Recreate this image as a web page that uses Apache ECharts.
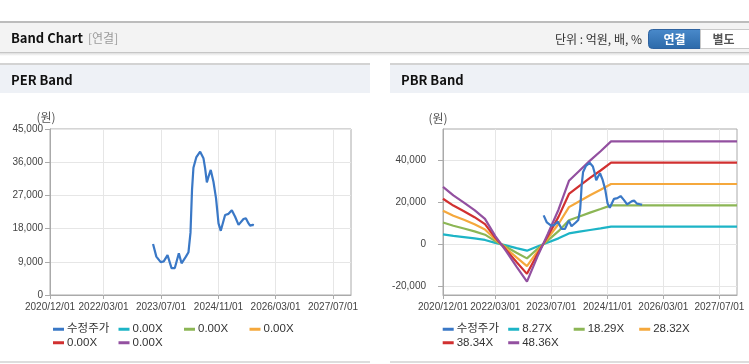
<!DOCTYPE html>
<html><head><meta charset="utf-8">
<script src="https://cdn.jsdelivr.net/npm/echarts@6/dist/echarts.min.js"></script>
<style>html,body{margin:0;padding:0;background:#fff;}#c{width:749px;height:364px;}</style>
</head><body><div id="c"></div>
<script>
// ---------- data ----------
const xTickLabels = ['2020/12/01','2022/03/01','2023/07/01','2024/11/01','2026/03/01','2027/07/01'];
const xMin = '2020/12/01';
const xMax = '2027/12/01';

const perYTicks = [0, 9000, 18000, 27000, 36000, 45000];
const pbrYTicks = [-20000, 0, 20000, 40000];
const pbrYMin = -24200;
const pbrYMax = 55000;

// 수정주가 (adjusted price)
const priceDates = ['2023/04/25','2023/05/23','2023/06/29','2023/07/25','2023/08/26','2023/09/29','2023/10/27','2023/11/30','2023/12/23','2024/01/29','2024/02/20','2024/03/08','2024/03/21','2024/04/02','2024/04/27','2024/05/29','2024/06/26','2024/07/10','2024/07/25','2024/08/08','2024/08/27','2024/09/19','2024/10/11','2024/11/01','2024/11/20','2024/12/27','2025/01/25','2025/02/22','2025/03/22','2025/04/20','2025/06/01','2025/06/21','2025/07/14','2025/07/27','2025/08/19','2025/08/28'];
const priceValues = [13800,10400,8900,9100,10800,7300,7300,11300,8600,10400,11600,16900,28500,34500,37400,38850,37100,34400,30500,32100,33900,30700,26200,19400,17400,21700,22000,23000,21200,19000,20600,20800,19400,18800,19000,18900];

// PBR band lines
const bandDates = ['2020/12/01','2021/03/01','2021/06/01','2021/09/01','2021/12/01','2022/03/01','2022/06/01','2022/09/01','2022/12/01','2023/03/01','2023/06/01','2023/09/01','2023/12/01','2024/03/01','2024/06/01','2024/09/01','2024/12/01','2027/12/01'];
const pbr827  = [4686,3984,3403,2788,2069,667,-547,-1830,-3044,-1026,855,2822,5182,6002,6824,7593,8397,8397];
const pbr1829 = [10363,8812,7526,6166,4576,1474,-1211,-4048,-6733,-2270,1891,6241,11461,13275,15091,16792,18570,18570];
const pbr2832 = [16046,13645,11654,9547,7086,2283,-1875,-6267,-10425,-3515,2928,9663,17745,20555,23367,26001,28753,28753];
const pbr3834 = [21723,18472,15777,12924,9593,3090,-2538,-8485,-14113,-4758,3964,13082,24024,27827,31634,35200,38927,38927];
const pbr4836 = [27400,23300,19900,16300,12100,3900,-3200,-10700,-17800,-6000,5000,16500,30300,35100,39900,44400,49100,49100];

// PER band lines (0.00X -> no line drawn)
const perBandEmpty = [];

const perLegendLabels = ['수정주가','0.00X','0.00X','0.00X','0.00X','0.00X'];
const pbrLegendLabels = ['수정주가','8.27X','18.29X','28.32X','38.34X','48.36X'];
const seriesColors = ['#3a78c6','#1db4c6','#8cb655','#f5a83c','#d13030','#9350a0'];

// ---------- helpers ----------
const LAT = "'Liberation Sans','Noto Sans CJK KR',sans-serif";
const KR = "'Noto Sans CJK KR','Liberation Sans',sans-serif";
const ts = s => new Date(s).getTime();
const zip = (d, v) => d.map((x, i) => [ts(x), v[i]]);
const tickTs = xTickLabels.map(ts);
const fmtDate = v => { const i = tickTs.indexOf(v); if (i >= 0) return xTickLabels[i];
  const d = new Date(v); return d.getFullYear() + '/' + String(d.getMonth()+1).padStart(2,'0') + '/' + String(d.getDate()).padStart(2,'0'); };
const fmtNum = v => Number(v).toLocaleString('en-US');

const names = ['perP','per1','per2','per3','per4','per5','pbrP','pbr1','pbr2','pbr3','pbr4','pbr5'];
const labelMap = {};
names.forEach((n, i) => { labelMap[n] = i < 6 ? perLegendLabels[i] : pbrLegendLabels[i-6]; });

function xAxisOpt(gi) {
  return {
    type: 'value', gridIndex: gi, min: ts(xMin), max: ts(xMax),
    axisLine: { show: true, onZero: false, lineStyle: { color: '#aaaaaa', width: 1 } },
    axisTick: { show: true, length: 4, customValues: tickTs, lineStyle: { color: '#aaaaaa' } },
    axisLabel: { customValues: tickTs, formatter: fmtDate, color: '#444', fontSize: 10, fontFamily: LAT, margin: 7, hideOverlap: false },
    splitLine: { show: true, lineStyle: { color: '#e6e6e6', width: 1 } }
  };
}

const lineS = (name, xi, data, color, z) => ({
  name, type: 'line', xAxisIndex: xi, yAxisIndex: xi, data,
  showSymbol: false, symbol: 'none', silent: true, animation: false,
  lineStyle: { color, width: 2.2 }, itemStyle: { color }, z: z
});

const series = [
  lineS('per1', 0, perBandEmpty, seriesColors[1], 2),
  lineS('per2', 0, perBandEmpty, seriesColors[2], 2),
  lineS('per3', 0, perBandEmpty, seriesColors[3], 2),
  lineS('per4', 0, perBandEmpty, seriesColors[4], 2),
  lineS('per5', 0, perBandEmpty, seriesColors[5], 2),
  lineS('perP', 0, zip(priceDates, priceValues), seriesColors[0], 3),
  lineS('pbr1', 1, zip(bandDates, pbr827), seriesColors[1], 2),
  lineS('pbr2', 1, zip(bandDates, pbr1829), seriesColors[2], 2),
  lineS('pbr3', 1, zip(bandDates, pbr2832), seriesColors[3], 2),
  lineS('pbr4', 1, zip(bandDates, pbr3834), seriesColors[4], 2),
  lineS('pbr5', 1, zip(bandDates, pbr4836), seriesColors[5], 2),
  lineS('pbrP', 1, zip(priceDates, priceValues), seriesColors[0], 3)
];

const legendCols = [0, 65.5, 131, 196.5];
const legendRows = [323.5, 337];
const legends = [];
[[53, 'per'], [442.7, 'pbr']].forEach(([x0, pre]) => {
  const order = [pre + 'P', pre + '1', pre + '2', pre + '3', pre + '4', pre + '5'];
  order.forEach((n, i) => {
    const row = i < 4 ? 0 : 1, col = i < 4 ? i : i - 4;
    legends.push({
      data: [n], left: x0 + legendCols[col], top: legendRows[row], padding: 0, itemGap: 0,
      icon: 'rect', itemWidth: 11, itemHeight: 3, selectedMode: false,
      formatter: nm => labelMap[nm],
      textStyle: { color: '#333', fontSize: 11.5, fontFamily: LAT, padding: [0, 0, 0, -2] }
    });
  });
});

const graphic = [
  { type: 'rect', shape: { x: 0, y: 21, width: 749, height: 2 }, style: { fill: '#bcbcbc' }, silent: true },
  { type: 'rect', shape: { x: 0, y: 23, width: 749, height: 29 }, style: { fill: '#f3f3f3' }, silent: true },
  { type: 'rect', shape: { x: 0, y: 52, width: 749, height: 1 }, style: { fill: '#c6c6c6' }, silent: true },
  { type: 'rect', shape: { x: 0, y: 53, width: 749, height: 3 }, style: { fill: new echarts.graphic.LinearGradient(0,0,0,1,[{offset:0,color:'#dedede'},{offset:1,color:'#ffffff'}]) }, silent: true },
  { type: 'text', x: 11, y: 38.5, style: { text: 'Band Chart', fill: '#111', font: "bold 13px " + KR, textVerticalAlign: 'middle' }, silent: true },
  { type: 'text', x: 88, y: 38.5, style: { text: '[연결]', fill: '#9a9a9a', font: "12px " + KR, textVerticalAlign: 'middle' }, silent: true },
  { type: 'text', x: 642, y: 39, style: { text: '단위 : 억원, 배, %', fill: '#333', font: "12px " + KR, textAlign: 'right', textVerticalAlign: 'middle' }, silent: true },
  { type: 'rect', shape: { x: 648.5, y: 29.5, width: 52, height: 19, r: [4, 0, 0, 4] }, style: { fill: new echarts.graphic.LinearGradient(0,0,0,1,[{offset:0,color:'#4a8acb'},{offset:1,color:'#2c69a9'}]), stroke: '#2f63a0', lineWidth: 1 }, silent: true },
  { type: 'text', x: 674.5, y: 39, style: { text: '연결', fill: '#fff', font: "bold 12px " + KR, textAlign: 'center', textVerticalAlign: 'middle' }, silent: true },
  { type: 'rect', shape: { x: 700.5, y: 29.5, width: 60, height: 19 }, style: { fill: '#ffffff', stroke: '#c9c9c9', lineWidth: 1 }, silent: true },
  { type: 'text', x: 723.5, y: 39, style: { text: '별도', fill: '#555', font: "bold 12px " + KR, textAlign: 'center', textVerticalAlign: 'middle' }, silent: true },
  { type: 'rect', shape: { x: 0, y: 63, width: 370, height: 2 }, style: { fill: '#d3d3d3' }, silent: true },
  { type: 'rect', shape: { x: 0, y: 65, width: 370, height: 28 }, style: { fill: '#eef1f6' }, silent: true },
  { type: 'rect', shape: { x: 390, y: 63, width: 359, height: 2 }, style: { fill: '#d3d3d3' }, silent: true },
  { type: 'rect', shape: { x: 390, y: 65, width: 359, height: 28 }, style: { fill: '#eef1f6' }, silent: true },
  { type: 'text', x: 11, y: 80, style: { text: 'PER Band', fill: '#111', font: "bold 13px " + KR, textVerticalAlign: 'middle' }, silent: true },
  { type: 'text', x: 401, y: 80, style: { text: 'PBR Band', fill: '#111', font: "bold 13px " + KR, textVerticalAlign: 'middle' }, silent: true },
  { type: 'text', x: 46, y: 117, style: { text: '(원)', fill: '#555', font: "12px " + KR, textAlign: 'center', textVerticalAlign: 'middle' }, silent: true },
  { type: 'text', x: 438, y: 118, style: { text: '(원)', fill: '#555', font: "12px " + KR, textAlign: 'center', textVerticalAlign: 'middle' }, silent: true },
  { type: 'rect', shape: { x: 0, y: 361, width: 370, height: 2 }, style: { fill: '#dddddd' }, silent: true },
  { type: 'rect', shape: { x: 390, y: 361, width: 359, height: 2 }, style: { fill: '#dddddd' }, silent: true }
];

const chart = echarts.init(document.getElementById('c'), null, { renderer: 'canvas' });
chart.setOption({
  animation: false,
  backgroundColor: '#ffffff',
  graphic,
  legend: legends,
  grid: [
    { left: 50, top: 129, width: 301, height: 166, show: true, borderColor: '#aaaaaa', borderWidth: 1, backgroundColor: 'transparent', outerBoundsMode: 'none', containLabel: false },
    { left: 443, top: 129, width: 294, height: 166, show: true, borderColor: '#aaaaaa', borderWidth: 1, backgroundColor: 'transparent', outerBoundsMode: 'none', containLabel: false }
  ],
  xAxis: [xAxisOpt(0), xAxisOpt(1)],
  yAxis: [
    { type: 'value', gridIndex: 0, min: perYTicks[0], max: perYTicks[perYTicks.length-1], interval: 9000,
      axisLine: { show: true, lineStyle: { color: '#aaaaaa' } },
      axisTick: { show: true, length: 5, lineStyle: { color: '#aaaaaa' } },
      axisLabel: { formatter: fmtNum, color: '#444', fontSize: 10, fontFamily: LAT, margin: 7 },
      splitLine: { show: true, lineStyle: { color: '#e6e6e6' } } },
    { type: 'value', gridIndex: 1, min: pbrYMin, max: pbrYMax,
      axisLine: { show: true, lineStyle: { color: '#aaaaaa' } },
      axisTick: { show: true, length: 5, customValues: pbrYTicks, lineStyle: { color: '#aaaaaa' } },
      axisLabel: { customValues: pbrYTicks, formatter: fmtNum, color: '#444', fontSize: 10, fontFamily: LAT, margin: 17 },
      splitLine: { show: true, lineStyle: { color: '#e6e6e6' } } }
  ],
  series
});
</script>
</body></html>
